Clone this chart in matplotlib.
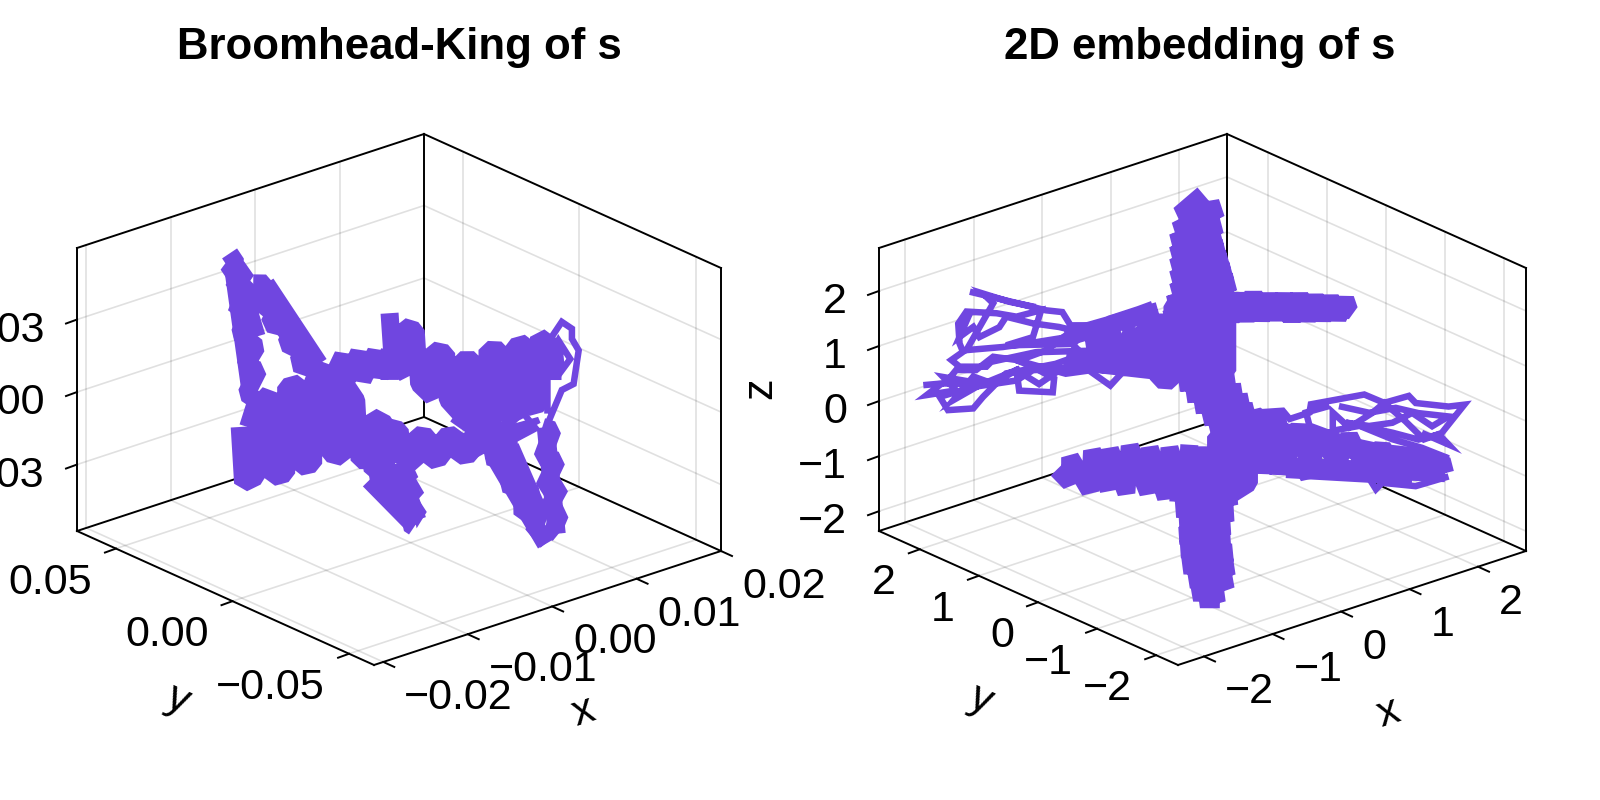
import numpy as np
import matplotlib
matplotlib.use("Agg")
import matplotlib.pyplot as plt

plt.rcParams["font.family"] = ["Liberation Sans", "DejaVu Sans"]

COLOR = "#7046e0"
THIN = 6.5 * 0.72
THICK = 18 * 0.72

titles = ["Broomhead-King of s", "2D embedding of s"]
nan = float("nan")

# left panel, values in steps of 0.01 (x), 0.05 (y), 0.03 (z)
bk_left_x = [-1.04, -.96, -1.06, -.84, -1.00, -.82, -.96, -.74, -.92, -.72, -.86, -.70, -.84, -.72, -.82]
bk_left_z = [1.89, 1.72, 1.60, 1.58, 1.37, 1.39, 1.03, 1.13, .74, .48, .26, .15, -.12, -.26, -.59]
bk_band_x = [-.76, -.61, -.65, -.45, -.57, -.29, -.37, -.13, -.25, -.02]
bk_band_z = [1.37, 1.31, .96, .97, .74, .55, .39, .16, .07, -.11]
bk_long_up_x = [-1.00, -.80, nan, -.76, -.09, nan, -.61, .02, nan, -.90, -.72]
bk_long_up_z = [1.69, -.04, nan, 1.32, .01, nan, 1.31, -.04, nan, 1.38, .62]
bk_blob_x = [-.92, -.88, -.72, -.72, -.57, -.53, -.37, -.37, -.21, -.21, -.05, -.05, .10, .14, .30, .30, .46, .50, .65, .65, .81, .85]
bk_blob_z = [-.55, -1.34, -1.31, -.35, -.22, -1.39, -1.40, -.21, -.22, -1.37, -1.39, -.24, -.11, -1.32, -1.43, -.37, -.71, -1.55, -1.61, -1.01, -1.17, -1.73]
bk_upper_x = [-1.69, -1.65, -1.49, -1.45, -1.30, -1.26, -1.10, -1.06, -.94, -.94]
bk_upper_z = [1.52, 1.27, 1.60, 1.24, 1.57, 1.17, 1.50, 1.14, 1.44, 1.05]
bk_right_x = [-.94, -.90, -.75, -.78, -.63, -.59, -.43, -.43, -.27, -.25, -.10, -.10, .06, .06, .22, .22, .38, .38, .53, .53, .69, .69, .85, .83, .99, .99]
bk_right_z = [1.97, 1.26, 1.06, 1.72, 1.61, .86, .62, 1.26, 1.16, .51, .26, 1.00, .94, .11, .05, 1.02, .95, .08, .07, .94, .93, .05, .04, .97, .77, .31]
bk_low_x = [-1.22, -1.14, -.98, -.98, -.82, -.78, -.63, -.63, -.47, -.47, -.31, -.31, -.16, -.12, .04, .04, .20, .22]
bk_low_z = [.55, -.12, -.18, .42, .31, -.12, -.20, .17, .08, -.24, -.25, .02, -.01, -.31, -.34, -.07, -.08, -.41]
bk_arm1_x = [-1.18, -.67, -.98, -.61, -.86, -.59, -.71, -.65]
bk_arm1_z = [-.20, -.30, -.50, -.55, -.78, -.84, -1.02, -1.09]
bk_arm2_x = [-.04, .51, .24, .63, .43, .79, .59, .87, .75, .93]
bk_arm2_z = [.15, -.29, -.46, -.75, -.91, -1.18, -1.29, -1.63, -1.58, -1.90]
bk_arm3_x = [.87, .99, .87, 1.04, .89, 1.08, .93, 1.08, 1.00, 1.06]
bk_arm3_z = [-.29, -.38, -.71, -.82, -1.13, -1.20, -1.46, -1.57, -1.76, -1.84]
bk_long_x = [-1.18, -.65, nan, -.82, -.61, nan, .28, .91, nan, .49, .87, nan, .91, 1.04, nan, -.16, .28, nan, .04, .40]
bk_long_z = [-.24, -1.07, nan, -.24, -1.01, nan, -.43, -1.92, nan, -.42, -1.58, nan, -.31, -1.83, nan, .28, -.25, nan, .25, .07]
bk_loop_x = [.93, .93, 1.10, 1.22, 1.22, 1.30, 1.24, 1.10, .95]
bk_loop_z = [-.13, .84, 1.07, .93, .79, .60, .16, .13, -.23]
bk_inner_x = [.93, 1.06, 1.20, 1.10, 1.08, 1.06]
bk_inner_z = [.60, .83, .52, .40, .64, .83]
bk_slot_x = [.45, .79, .63, .43, .32, .51]
bk_slot_z = [-.36, -.28, .01, -.17, -.01, .12]
bk_mesh_x = [.51, -.08, .67, .12, .83, .24, .51, .36, .79]
bk_mesh_z = [.12, .12, -.03, -.14, -.18, -.33, -.06, -.10, .02]

# right panel
em_up_x = [1.5, 1.15, 1.75, 1.1, 1.75, 1.05, 1.75, 1.05, 1.8, 1.05, 1.85, 1.05, 1.9, 1.05, 1.95, 1.0, 1.95, .95, 1.95]
em_up_z = [2.65, 2.42, 2.3, 2.15, 2.0, 1.95, 1.78, 1.72, 1.55, 1.5, 1.33, 1.28, 1.1, 1.05, .88, .85, .65, .6, .45]
em_mid_x = [.85, .85, 1.05, 1.05, 1.25, 1.25, 1.45, 1.45, 1.65, 1.65, 1.85, 1.85]
em_mid_z = [.75, -.45, -.55, .8, .85, -.65, -.65, .85, .75, -.7, -.7, .6]
em_arm_x = [1.50, 1.56, 1.62, 1.68, 1.74, 1.80, 1.86, 1.92, 1.98, 2.04, 2.10, 2.16, 2.22, 2.28, 2.34, 2.40, 2.46, 2.52, 2.55, 1.5]
em_arm_y = [1.50, 1.44, 1.38, 1.32, 1.26, 1.20, 1.14, 1.08, 1.02, .96, .90, .84, .78, .72, .66, .60, .54, .48, .45, 1.5]
em_arm_z = [.44, .96, .46, .94, .48, .97, .50, .95, .52, .96, .50, .97, .52, .95, .54, .94, .56, .92, .72, .67]
em_link_x = [.44, 1.26, .55, 1.35, .66, 1.45, .78, 1.55, .9, 1.63, 1.0, 1.72, 1.07]
em_link_z = [.18, -.15, -.05, -.35, -.30, -.58, -.55, -.8, -.82, -1.0, -1.05, -1.25, -1.19]
em_cross_x = [-.02, -.02, .22, .22, .46, .46, .70, .70, .90, .94]
em_cross_z = [-.49, -1.40, -1.44, -.41, -.45, -1.54, -1.45, -.30, -.32, -1.37]
em_wing_x = [-2.10, -1.91, -1.91, -1.62, -1.59, -1.35, -1.33, -1.09, -1.04, -.77, -.75, -.51, -.46, -.22, -.17]
em_wing_z = [-.06, -.38, .08, -.65, .07, -.73, -.01, -.90, -.07, -1.03, -.22, -1.23, -.34, -1.38, -.40]
em_tail_x = [-1.49, -.52, -1.39, -.57, -1.34, -.62, -1.34, -.62, -1.32, -.59, -1.29, -.57, -1.20, -.59, -1.15, -.71, -1.05, -.76]
em_tail_z = [-.15, -.61, -.49, -.89, -.75, -1.11, -1.00, -1.36, -1.25, -1.61, -1.56, -1.86, -1.85, -2.09, -2.11, -2.29, -2.27, -2.39]
em_core_x = [-.53, -.39, -.19, -.05, .14, .29, .48, .68, .87, 1.11, 1.35, 1.55, 1.79, 1.98, 2.22, 2.27, nan,
             -.29, 2.27, nan, -.29, 2.27, nan, .43, 2.08, nan, -.05, 1.79]
em_core_z = [1.06, -.09, .86, -.05, .54, -.25, .28, -.41, .06, -.65, -.33, -.89, -.63, -1.01, -.93, -1.19, nan,
             .66, -1.07, nan, -.01, -1.19, nan, .05, -.84, nan, -.17, -1.05]
em_neck_x = [.40, .49, .69, .83, .98, 1.07, 1.22, 1.36, nan, .01, 1.36, nan, .01, 1.36]
em_neck_z = [.34, -.43, .16, -.51, .13, -.67, .36, -.91, nan, .37, .30, nan, -.05, -.79]

em_fray_l_x = [-2.07, -1.80, -2.02, -1.59, -1.78, -1.20, -.71, -.67, -.18, -.16, -.47, -.71, .01, .35, .66, .86, nan,
               -1.39, -.67, -.28, -.04, .08, .45, .11, -.86, -.47, -.35, -.71, -1.00, -1.44, -1.56, -1.54, -1.49, -1.66,
               -1.54, -1.15, -1.08, -.43, .40, -.14, -.86, -1.20, -1.34, -1.71, -1.83, -1.34, -.71, -.47, .40, nan,
               .45, .64, 1.07, 1.27, nan,
               -1.39, -1.54, -1.34, -1.25, -.96, -.86, -.47, -.09, .11, -.28, -.67, -1.05, -1.30, -1.59, -1.75, -1.54,
               -1.30, -1.63, -1.34, -1.05, -.71, -.38, -.09, .30, .01, -.57, -.91, -1.44, -1.05, -1.20, -.81, -.43]
em_fray_l_z = [.35, .27, .15, .06, .38, .02, .07, -.32, -.55, -.31, .03, .25, -.29, -.37, -.77, -.58, nan,
               1.77, 1.26, .98, .85, .56, .41, .21, .58, .57, 1.01, 1.04, 1.22, 1.43, 1.26, .89, .72, .64,
               .47, .31, .37, .28, -.03, -.05, .07, -.22, -.37, -.25, .04, .02, -.12, -.03, -.33, nan,
               .32, .45, .45, .46, nan,
               1.38, 1.01, 1.11, .89, .95, 1.10, .82, .60, .46, .25, .23, .45, .31, .43, .25, .16,
               .00, -.10, .21, -.04, .07, -.32, -.19, -.11, .37, .49, .57, .73, 1.42, 1.66, 1.35, 1.10]
em_fray_r_x = [-.44, -.10, 0, .29, .31, 1.09, 1.38, 1.74, 1.84, 2.32, 2.55, 2.22, 1.96, 1.69, 1.38, 1.21, .87, .63, .63, 1.02,
               1.50, 1.93, 2.13, 2.32, 1.40, .82, .29, .24, .58, nan,
               2.32, 1.84, 1.35, 1.26, 1.11, .72, .19, .10, .43, 1.11, 2.30, 1.40, .43, -.24, nan,
               .72, 1.16, 1.55, 1.88, 2.32, 2.08, 1.79, 1.50, 1.16, .82, 1.50, 1.88, 2.18, 2.32, 1.93]
em_fray_r_z = [1.02, .91, .72, .72, .86, .72, .45, .43, .26, .00, -.06, -.44, -.45, -.01, .45, .34, .21, .58, .25, .18,
               -.26, -.59, -.77, -.94, -.47, .02, .48, .74, .72, nan,
               -1.27, -1.25, -.99, -1.07, -.71, -.49, -.42, -.17, -.31, -.53, -1.14, -.59, -.01, .27, nan,
               .66, .36, .29, .06, -.18, -.26, .10, .04, .12, .32, -.14, -.42, -.45, -.69, -.32]

bk_ticks_x = [-2, -1, 0, 1, 2]
bk_ticks_y = [-1, 0, 1]
bk_ticks_z = [-1, 0, 1]
bk_labels_x = ["\u22120.02", "\u22120.01", "0.00", "0.01", "0.02"]
bk_labels_y = ["\u22120.05", "0.00", "0.05"]
bk_labels_z = ["\u22120.03", "0.00", "0.03"]
em_ticks = [-2, -1, 0, 1, 2]
em_labels = ["\u22122", "\u22121", "0", "1", "2"]


class Box:
    def __init__(self, lims, left, back, front, height, steps):
        self.lims = lims
        self.left = np.array(left, float)
        self.back = np.array(back, float)
        self.front = np.array(front, float)
        self.height = height
        self.steps = steps

    def __call__(self, x, y, z):
        (x0, x1), (y0, y1), (z0, z1) = self.lims
        x = np.asarray(x, float) * self.steps[0]
        y = np.asarray(y, float) * self.steps[1]
        z = np.asarray(z, float) * self.steps[2]
        u = (x - x0) / (x1 - x0)
        v = (y1 - y) / (y1 - y0)
        w = (z - z0) / (z1 - z0)
        px = self.left[0] + u * (self.back[0] - self.left[0]) + v * (self.front[0] - self.left[0])
        py = self.left[1] + u * (self.back[1] - self.left[1]) + v * (self.front[1] - self.left[1]) - w * self.height
        return px, py


def seg(ax, box, a, b, **kw):
    p = box(*zip(a, b))
    ax.plot(p[0], p[1], **kw)


def draw_box(ax, box, ticks):
    lo = [l[0] / s for l, s in zip(box.lims, box.steps)]
    hi = [l[1] / s for l, s in zip(box.lims, box.steps)]
    grid = dict(color=(0, 0, 0, 0.12), lw=1.2, zorder=1)
    for t in ticks[0]:
        seg(ax, box, (t, hi[1], lo[2]), (t, hi[1], hi[2]), **grid)
        seg(ax, box, (t, lo[1], lo[2]), (t, hi[1], lo[2]), **grid)
    for t in ticks[1]:
        seg(ax, box, (hi[0], t, lo[2]), (hi[0], t, hi[2]), **grid)
        seg(ax, box, (lo[0], t, lo[2]), (hi[0], t, lo[2]), **grid)
    for t in ticks[2]:
        seg(ax, box, (lo[0], hi[1], t), (hi[0], hi[1], t), **grid)
        seg(ax, box, (hi[0], hi[1], t), (hi[0], lo[1], t), **grid)

    line = dict(color="black", lw=1.4, zorder=2, solid_capstyle="projecting")
    corners = [
        ((lo[0], hi[1], lo[2]), (lo[0], hi[1], hi[2])),
        ((lo[0], hi[1], hi[2]), (hi[0], hi[1], hi[2])),
        ((hi[0], hi[1], hi[2]), (hi[0], lo[1], hi[2])),
        ((hi[0], hi[1], lo[2]), (hi[0], hi[1], hi[2])),
        ((hi[0], lo[1], lo[2]), (hi[0], lo[1], hi[2])),
        ((lo[0], hi[1], lo[2]), (hi[0], hi[1], lo[2])),
        ((hi[0], hi[1], lo[2]), (hi[0], lo[1], lo[2])),
        ((lo[0], hi[1], lo[2]), (lo[0], lo[1], lo[2])),
        ((lo[0], lo[1], lo[2]), (hi[0], lo[1], lo[2])),
    ]
    for a, b in corners:
        seg(ax, box, a, b, **line)


def draw_ticks(ax, box, ticks, labels):
    lo = [l[0] / s for l, s in zip(box.lims, box.steps)]
    hi = [l[1] / s for l, s in zip(box.lims, box.steps)]
    tick = dict(color="black", lw=1.4, zorder=2)
    font = dict(fontsize=31, zorder=5)
    for t, lab in zip(ticks[0], labels[0]):
        px, py = box(t, lo[1], lo[2])
        ax.plot([px, px + 11], [py, py + 5], **tick)
        ax.text(px + 21, py + 36, lab, ha="left", va="center", **font)
    for t, lab in zip(ticks[1], labels[1]):
        px, py = box(lo[0], t, lo[2])
        ax.plot([px, px - 11], [py, py + 4], **tick)
        ax.text(px - 24, py + 34, lab, ha="right", va="center", **font)
    for t, lab in zip(ticks[2], labels[2]):
        px, py = box(lo[0], hi[1], t)
        ax.plot([px, px - 11], [py, py + 4], **tick)
        ax.text(px - 32, py + 11, lab, ha="right", va="center", **font)


fig = plt.figure(figsize=(16, 8), dpi=100)
ax = fig.add_axes([0, 0, 1, 1])
ax.set_xlim(0, 1600)
ax.set_ylim(800, 0)
ax.axis("off")

bk = Box(((-0.0211, 0.0200), (-0.0607, 0.0667), (-0.0575, 0.0596)),
         (77, 531), (424, 417), (374, 665), 283, (0.01, 0.05, 0.03))
em = Box(((-2.38, 2.70), (-2.37, 2.69), (-2.36, 2.78)),
         (879, 531), (1227, 417), (1178, 665), 283, (1, 1, 1))

draw_box(ax, bk, (bk_ticks_x, bk_ticks_y, bk_ticks_z))
draw_box(ax, em, (em_ticks, em_ticks, em_ticks))
draw_ticks(ax, bk, (bk_ticks_x, bk_ticks_y, bk_ticks_z), (bk_labels_x, bk_labels_y, bk_labels_z))
draw_ticks(ax, em, (em_ticks, em_ticks, em_ticks), (em_labels, em_labels, em_labels))

bk_strokes = [
    (bk_left_x, 0.8, bk_left_z, THICK), (bk_band_x, 0.8, bk_band_z, THICK), (bk_long_up_x, 0.8, bk_long_up_z, THICK),
    (bk_blob_x, 0.8, bk_blob_z, THICK), (bk_upper_x, -0.5, bk_upper_z, THICK), (bk_right_x, -0.5, bk_right_z, THICK),
    (bk_low_x, -0.5, bk_low_z, THICK), (bk_arm1_x, -0.5, bk_arm1_z, THICK), (bk_arm2_x, -0.5, bk_arm2_z, THICK),
    (bk_arm3_x, -0.5, bk_arm3_z, THICK), (bk_long_x, -0.5, bk_long_z, THICK),
    (bk_loop_x, -0.5, bk_loop_z, THIN), (bk_inner_x, -0.5, bk_inner_z, THIN), (bk_slot_x, -0.5, bk_slot_z, THIN),
    (bk_mesh_x, -0.5, bk_mesh_z, THIN),
]
em_strokes = [
    (em_up_x, 1.7, em_up_z, THICK), (em_mid_x, 1.7, em_mid_z, THICK), (em_arm_x, em_arm_y, em_arm_z, THICK),
    (em_link_x, 1.0, em_link_z, THICK), (em_cross_x, 0.0, em_cross_z, THICK), (em_wing_x, 0.0, em_wing_z, THICK),
    (em_tail_x, -1.2, em_tail_z, THICK), (em_core_x, -1.5, em_core_z, THICK), (em_neck_x, 2.3, em_neck_z, THICK),
    (em_fray_l_x, 2.3, em_fray_l_z, THIN), (em_fray_r_x, -1.5, em_fray_r_z, THIN),
]
for box, strokes in ((bk, bk_strokes), (em, em_strokes)):
    for x, y, z, lw in strokes:
        px, py = box(x, y, z)
        ax.plot(px, py, color=COLOR, lw=lw, solid_joinstyle="bevel" if lw == THICK else "miter",
                solid_capstyle="butt", zorder=3)

ax.text(399, 48, titles[0], ha="center", va="center", fontsize=31.5, fontweight="bold")
ax.text(1200, 48, titles[1], ha="center", va="center", fontsize=31.5, fontweight="bold")
ax.text(583, 712, "x", ha="center", va="center", fontsize=31, rotation=18)
ax.text(178, 700, "y", ha="center", va="center", fontsize=31, rotation=-24)
ax.text(1388, 713, "x", ha="center", va="center", fontsize=31, rotation=18)
ax.text(981, 700, "y", ha="center", va="center", fontsize=31, rotation=-24)
ax.text(760, 388, "z", ha="center", va="center", fontsize=31, rotation=90)

fig.savefig("out.png", dpi=100)
plt.close(fig)
